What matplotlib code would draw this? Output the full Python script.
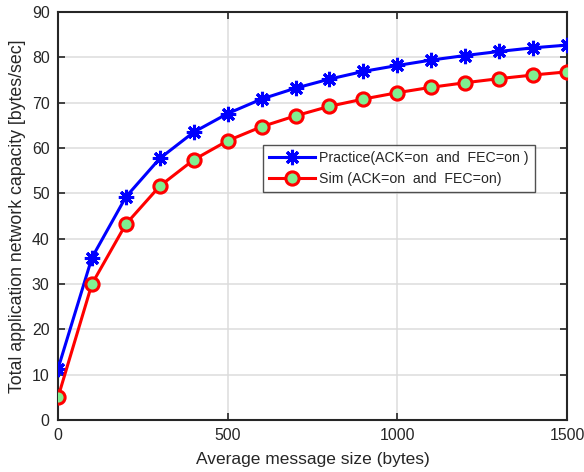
import matplotlib
matplotlib.use("Agg")
import matplotlib.pyplot as plt

msg_size = [0, 100, 200, 300, 400, 500, 600, 700, 800, 900, 1000, 1100, 1200, 1300, 1400, 1500]
practice = [11.3, 35.8, 49.2, 57.7, 63.5, 67.6, 70.8, 73.2, 75.2, 76.9, 78.2, 79.4, 80.4, 81.3, 82.1, 82.7]
sim = [5.0, 30.0, 43.2, 51.6, 57.4, 61.6, 64.7, 67.1, 69.2, 70.8, 72.2, 73.4, 74.4, 75.3, 76.1, 76.8]

xticks = [0, 500, 1000, 1500]
yticks = list(range(0, 91, 10))

plt.rcParams['font.family'] = ['Liberation Sans', 'DejaVu Sans']
fig = plt.figure(figsize=(5.84, 4.72), dpi=100)
ax = fig.add_axes([58 / 584, 1 - 420 / 472, (567 - 58) / 584, (420 - 12) / 472])

ax.plot(msg_size, practice, color='#0000ff', lw=2.2, marker=(8, 2, 0), ms=11, mew=2.2,
        label='Practice(ACK=on  and  FEC=on )', zorder=3)
ax.plot(msg_size, sim, color='#ff0000', lw=2.2, marker='o', ms=9.5, mew=2.2,
        mfc='#80f090', mec='#ff0000', label='Sim (ACK=on  and  FEC=on)', zorder=3)

ax.set_xlim(0, 1500)
ax.set_ylim(0, 90)
ax.set_xticks(xticks)
ax.set_yticks(yticks)
ax.grid(True, color='#dcdcdc', lw=1.1)
ax.set_axisbelow(True)
for s in ax.spines.values():
    s.set_color('#262626')
    s.set_linewidth(1.5)
ax.tick_params(direction='in', top=True, right=True, length=5, width=1.2,
               colors='#262626', labelsize=11.4, pad=6)
ax.set_xlabel('Average message size (bytes)', fontsize=12.5, color='#262626', labelpad=6)
ax.set_ylabel('Total application network capacity [bytes/sec]', fontsize=12.8, color='#262626', labelpad=4)

leg = ax.legend(loc='upper left', bbox_to_anchor=((263 - 58) / 509, 1 - (145 - 12) / 408),
                fontsize=10.2, frameon=True, fancybox=False, borderaxespad=0,
                handlelength=3.2, handletextpad=0.3, borderpad=0.45, labelspacing=0.45)
leg.get_frame().set_edgecolor('#262626')
leg.get_frame().set_linewidth(1.0)
for t in leg.get_texts():
    t.set_color('#262626')

fig.savefig('out.png', dpi=100)
